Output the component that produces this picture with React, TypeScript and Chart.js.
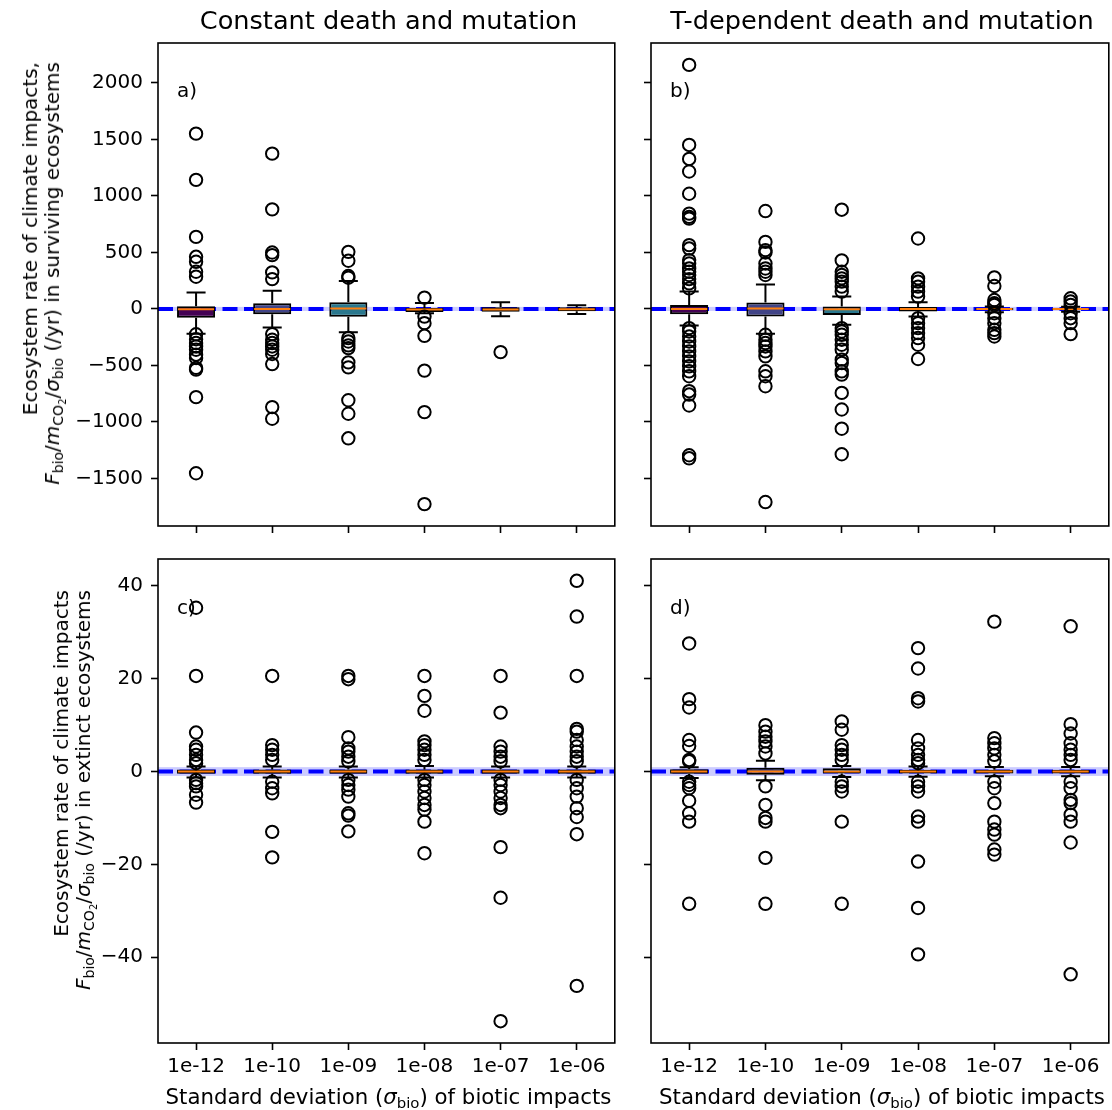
import React, { useEffect, useRef } from 'react';
import { Chart, registerables } from 'chart.js';

Chart.register(...registerables);
Chart.defaults.font.family = "'DejaVu Sans', sans-serif";
Chart.defaults.font.size = 20;
Chart.defaults.color = '#000';

// ---- shared categories and styles ----
const CATEGORIES = ['1e-12', '1e-10', '1e-09', '1e-08', '1e-07', '1e-06'];
const BOX_COLORS = ['#440154', '#414487', '#2a788e', '#22a884', '#7ad151', '#fde725'];
const MEDIAN_COLOR = '#ff7f0e';

const SURVIVING_TICKS = [-1500, -1000, -500, 0, 500, 1000, 1500, 2000];
const EXTINCT_TICKS = [-40, -20, 0, 20, 40];

// ---- a) constant death and mutation, surviving ecosystems ----
const A_Q1 = [-79, -47, -70, -28, -25, -21];
const A_Q3 = [23, 50, 59, 9, 14, 14];
const A_MED = [-3, 0, 3, -6, -6, -4];
const A_WLO = [-220, -164, -206, -38, -65, -44];
const A_WHI = [146, 161, 247, 53, 58, 32];
const A_FLIERS = [
  [1551, 1142, 637, 461, 417, 329, 285, -224, -268, -302, -332, -361, -405, -434, -522, -537, -781, -1454],
  [1374, 881, 499, 476, 323, 264, -223, -273, -302, -332, -361, -399, -488, -869, -972],
  [505, 426, 291, 276, -258, -288, -323, -347, -473, -517, -808, -928, -1145],
  [100, -68, -126, -238, -546, -913, -1727],
  [-382],
  [],
];

// ---- b) T-dependent death and mutation, surviving ecosystems ----
const B_Q1 = [-47, -68, -53, -23, -12, -9];
const B_Q3 = [35, 56, 21, 18, 9, 6];
const B_MED = [0, 3, -3, 0, 0, 0];
const B_WLO = [-147, -220, -141, -68, -30, -25];
const B_WHI = [153, 217, 109, 59, 22, 20];
const B_FLIERS = [
  [2159, 1451, 1327, 1216, 1019, 843, 814, 799, 564, 534, 432, 402, 358, 329, 300, 264, 226, 182,
    -170, -200, -244, -288, -332, -376, -420, -464, -508, -552, -596, -728, -758, -855, -1295, -1322],
  [866, 593, 520, 499, 402, 358, 329, 300, -229, -273, -302, -332, -376, -420, -552, -596, -684, -1709],
  [878, 429, 329, 300, 270, 241, 197, 153, -170, -200, -229, -273, -317, -361, -449, -479, -552, -581,
    -743, -890, -1060, -1286],
  [623, 270, 241, 197, 153, 109, -82, -126, -170, -214, -258, -317, -443],
  [279, 203, 79, 50, 35, -38, -82, -126, -185, -214, -244],
  [94, 65, 35, -38, -82, -126, -223],
];

// ---- c) constant death and mutation, extinct ecosystems ----
const C_Q1 = [-0.5, -0.5, -0.5, -0.5, -0.5, -0.5];
const C_Q3 = [0.45, 0.45, 0.45, 0.45, 0.45, 0.45];
const C_MED = [0, 0, 0, 0, 0, 0];
const C_WLO = [-1.3, -1.3, -1.3, -1.3, -1.3, -1.3];
const C_WHI = [1.1, 1.1, 1.1, 1.2, 1.1, 1.1];
const C_FLIERS = [
  [35.3, 20.6, 8.4, 5.4, 4.7, 3.6, 2.5, 1.8, -1.8, -2.5, -3.2, -5.0, -6.7],
  [20.6, 5.7, 4.7, 3.6, 2.5, -2.2, -3.6, -4.7, -13.0, -18.5],
  [20.6, 19.9, 7.4, 5.0, 4.3, 3.2, 2.2, -1.8, -2.9, -3.9, -5.4, -9.0, -9.5, -12.9],
  [20.6, 16.3, 13.1, 6.5, 5.7, 4.7, 3.6, 2.5, -1.8, -2.9, -4.3, -5.7, -7.2, -8.2, -10.8, -17.6],
  [20.6, 12.7, 5.4, 4.3, 3.2, 2.2, -1.8, -2.9, -4.3, -5.7, -7.2, -7.9, -16.3, -27.2, -53.8],
  [41.1, 33.4, 20.6, 9.2, 8.6, 6.8, 5.4, 4.3, 3.2, 2.2, -1.8, -3.6, -5.4, -7.9, -9.8, -13.5, -46.2],
];

// ---- d) T-dependent death and mutation, extinct ecosystems ----
const D_Q1 = [-0.5, -0.7, -0.4, -0.4, -0.4, -0.4];
const D_Q3 = [0.5, 0.8, 0.7, 0.4, 0.4, 0.4];
const D_MED = [0, 0, 0, 0, 0, 0];
const D_WLO = [-1.4, -1.9, -1.2, -1.1, -1.0, -1.0];
const D_WHI = [0.9, 2.3, 1.2, 1.1, 1.0, 1.0];
const D_FLIERS = [
  [27.6, 15.6, 13.8, 6.8, 5.5, 2.5, 2.2, -2.2, -2.9, -3.6, -6.3, -9.0, -10.8, -28.5],
  [10.0, 8.6, 7.5, 6.5, 5.4, 3.9, -3.2, -7.2, -10.0, -10.8, -18.6, -28.5],
  [10.8, 9.0, 5.7, 4.7, 3.6, 2.5, -2.2, -3.2, -4.3, -10.8, -28.5],
  [26.6, 22.2, 15.8, 15.1, 6.8, 5.0, 3.6, 2.5, 1.8, -2.2, -3.2, -4.3, -9.7, -10.8, -19.4, -29.4, -39.4],
  [32.3, 7.2, 6.1, 5.0, 3.6, 2.2, -2.2, -3.6, -6.8, -10.8, -12.5, -13.6, -16.8, -17.9],
  [31.3, 10.2, 8.2, 6.1, 4.7, 3.6, 2.5, -2.2, -3.6, -6.1, -6.8, -9.3, -10.8, -15.3, -43.7],
];

// zero reference line and its shaded band (half widths, data units)
const SURVIVING_BAND = 18;
const EXTINCT_BAND = 0.95;

// layout of the four axes (page pixels)
const AXIS_W = 100;
const AXIS_H = 60;
const PAD_TOP = 20;
const PAD_RIGHT = 4;

type Rect = { left: number; top: number; right: number; bottom: number };

type PanelProps = {
  rect: Rect;
  q1: number[];
  q3: number[];
  med: number[];
  wlo: number[];
  whi: number[];
  fliers: number[][];
  yMin: number;
  yMax: number;
  yTicks: number[];
  band: number;
  showX: boolean;
  showY: boolean;
};

function BoxPanel(p: PanelProps) {
  const ref = useRef<HTMLCanvasElement>(null);
  const width = p.rect.right - p.rect.left + AXIS_W + PAD_RIGHT;
  const height = p.rect.bottom - p.rect.top + PAD_TOP + AXIS_H;

  useEffect(() => {
    const canvas = ref.current;
    if (!canvas) return;

    const flierPoints = p.fliers.flatMap((vals, i) => vals.map((v) => ({ x: CATEGORIES[i], y: v })));

    const boxParts = {
      id: 'boxParts',
      beforeDatasetsDraw(chart: any) {
        const { ctx, chartArea: a, scales } = chart;
        const y = scales.y;
        ctx.save();
        ctx.beginPath();
        ctx.rect(a.left, a.top, a.right - a.left, a.bottom - a.top);
        ctx.clip();
        const yTop = y.getPixelForValue(p.band);
        const yBot = y.getPixelForValue(-p.band);
        ctx.fillStyle = 'rgba(0, 0, 255, 0.2)';
        ctx.fillRect(a.left, yTop, a.right - a.left, yBot - yTop);
        const y0 = y.getPixelForValue(0);
        ctx.strokeStyle = '#0000ff';
        ctx.lineWidth = 4;
        ctx.setLineDash([15, 6.5]);
        ctx.beginPath();
        ctx.moveTo(a.left, y0);
        ctx.lineTo(a.right, y0);
        ctx.stroke();
        ctx.restore();
      },
      afterDatasetDraw(chart: any, args: any) {
        if (args.index !== 1) return;
        const { ctx, scales } = chart;
        const y = scales.y;
        const meta = chart.getDatasetMeta(1);
        ctx.save();
        meta.data.forEach((bar: any, i: number) => {
          const cx = bar.x;
          const half = bar.width / 2;
          const cap = bar.width / 4;
          const yq1 = y.getPixelForValue(p.q1[i]);
          const yq3 = y.getPixelForValue(p.q3[i]);
          const ylo = y.getPixelForValue(p.wlo[i]);
          const yhi = y.getPixelForValue(p.whi[i]);
          ctx.strokeStyle = '#000';
          ctx.lineWidth = 2;
          ctx.beginPath();
          ctx.moveTo(cx, Math.min(yq3, yq1));
          ctx.lineTo(cx, yhi);
          ctx.moveTo(cx, Math.max(yq3, yq1));
          ctx.lineTo(cx, ylo);
          ctx.moveTo(cx - cap, yhi);
          ctx.lineTo(cx + cap, yhi);
          ctx.moveTo(cx - cap, ylo);
          ctx.lineTo(cx + cap, ylo);
          ctx.stroke();
          const ym = y.getPixelForValue(p.med[i]);
          ctx.strokeStyle = MEDIAN_COLOR;
          ctx.lineWidth = 2;
          ctx.beginPath();
          ctx.moveTo(cx - half + 1, ym);
          ctx.lineTo(cx + half - 1, ym);
          ctx.stroke();
        });
        ctx.restore();
      },
      afterDraw(chart: any) {
        const { ctx, chartArea: a } = chart;
        ctx.save();
        ctx.strokeStyle = '#000';
        ctx.lineWidth = 1.6;
        ctx.strokeRect(a.left, a.top, a.right - a.left, a.bottom - a.top);
        ctx.restore();
      },
    };

    const chart = new Chart(canvas, {
      type: 'bar',
      data: {
        labels: CATEGORIES,
        datasets: [
          {
            type: 'line',
            data: flierPoints as any,
            showLine: false,
            pointRadius: 6.2,
            pointHoverRadius: 6.2,
            pointBorderWidth: 2,
            pointBorderColor: '#000',
            pointBackgroundColor: 'rgba(0,0,0,0)',
            borderColor: '#000',
            backgroundColor: 'rgba(0,0,0,0)',
          } as any,
          {
            type: 'bar',
            data: p.q1.map((q, i) => [q, p.q3[i]]) as any,
            backgroundColor: BOX_COLORS,
            borderColor: '#000',
            borderWidth: 2,
            borderSkipped: false,
            barPercentage: 0.5,
            categoryPercentage: 1,
          } as any,
        ],
      },
      options: {
        responsive: false,
        animation: false,
        devicePixelRatio: 1,
        layout: { padding: { top: PAD_TOP, right: PAD_RIGHT, left: 0, bottom: 0 } },
        plugins: { legend: { display: false }, tooltip: { enabled: false } },
        events: [],
        scales: {
          x: {
            type: 'category',
            offset: true,
            grid: {
              offset: false,
              drawOnChartArea: false,
              drawTicks: true,
              tickLength: 7,
              tickWidth: 1.6,
              tickColor: '#000',
            },
            border: { display: false },
            ticks: { display: p.showX, padding: 5, font: { size: 20 }, color: '#000', maxRotation: 0, autoSkip: false },
            afterFit: (s: any) => {
              s.height = AXIS_H;
            },
          },
          y: {
            type: 'linear',
            min: p.yMin,
            max: p.yMax,
            grid: {
              drawOnChartArea: false,
              drawTicks: true,
              tickLength: 7,
              tickWidth: 1.6,
              tickColor: '#000',
            },
            border: { display: false },
            ticks: {
              display: p.showY,
              padding: 8,
              font: { size: 20 },
              color: '#000',
              callback: (v: any) => String(v).replace('-', '\u2212'),
            },
            afterBuildTicks: (s: any) => {
              s.ticks = p.yTicks.map((v) => ({ value: v }));
            },
            afterFit: (s: any) => {
              s.width = AXIS_W;
            },
          },
        },
      } as any,
      plugins: [boxParts],
    });
    return () => chart.destroy();
  }, []);

  return (
    <canvas
      ref={ref}
      width={width}
      height={height}
      style={{
        position: 'absolute',
        left: p.rect.left - AXIS_W,
        top: p.rect.top - PAD_TOP,
        width,
        height,
      }}
    />
  );
}

const FONT = "'DejaVu Sans', sans-serif";
const subStyle: React.CSSProperties = { fontSize: '70%', verticalAlign: '-0.28em', lineHeight: 0 };

function Sub({ children }: { children: React.ReactNode }) {
  return <span style={subStyle}>{children}</span>;
}

function RateSymbol() {
  return (
    <>
      <i>F</i>
      <Sub>bio</Sub>/<i>m</i>
      <Sub>
        CO<Sub>2</Sub>
      </Sub>
      /<i>σ</i>
      <Sub>bio</Sub>
    </>
  );
}

// Two-line vertical axis title; (x, yTop) is where the ends of both lines meet.
function YTitle({ x, yTop, first, second }: { x: number; yTop: number; first: string; second: string }) {
  return (
    <div
      style={{
        position: 'absolute',
        left: x,
        top: yTop,
        transformOrigin: '0 0',
        transform: 'rotate(-90deg) translate(-100%, -50%)',
        whiteSpace: 'nowrap',
        textAlign: 'right',
        fontSize: 20,
        lineHeight: '22px',
        fontFamily: FONT,
      }}
    >
      <div>{first}</div>
      <div>
        <RateSymbol /> (/yr) in {second}
      </div>
    </div>
  );
}

function XTitle({ cx, top }: { cx: number; top: number }) {
  return (
    <div
      style={{
        position: 'absolute',
        left: cx - 300,
        width: 600,
        top,
        textAlign: 'center',
        fontSize: 21.3,
        lineHeight: '26px',
        whiteSpace: 'nowrap',
        fontFamily: FONT,
      }}
    >
      Standard deviation (<i>σ</i>
      <Sub>bio</Sub>) of biotic impacts
    </div>
  );
}

function Text({ x, y, size, children, center }: { x: number; y: number; size: number; children: React.ReactNode; center?: boolean }) {
  return (
    <div
      style={{
        position: 'absolute',
        left: center ? x - 400 : x,
        width: center ? 800 : undefined,
        top: y - size * 0.6,
        fontSize: size,
        lineHeight: `${size * 1.2}px`,
        textAlign: center ? 'center' : 'left',
        whiteSpace: 'nowrap',
        fontFamily: FONT,
      }}
    >
      {children}
    </div>
  );
}

const RECT_A: Rect = { left: 158, top: 43, right: 619, bottom: 526 };
const RECT_B: Rect = { left: 651, top: 43, right: 1113, bottom: 526 };
const RECT_C: Rect = { left: 158, top: 559, right: 619, bottom: 1043 };
const RECT_D: Rect = { left: 651, top: 559, right: 1113, bottom: 1043 };

const SURV_MIN = -1921;
const SURV_MAX = 2353;
const EXT_MIN = -58.5;
const EXT_MAX = 45.8;

export default function App() {
  return (
    <div
      style={{
        position: 'absolute',
        left: 0,
        top: 0,
        width: 1112,
        height: 1110,
        overflow: 'hidden',
        background: '#fff',
        fontFamily: FONT,
        color: '#000',
      }}
    >
      <BoxPanel rect={RECT_A} q1={A_Q1} q3={A_Q3} med={A_MED} wlo={A_WLO} whi={A_WHI} fliers={A_FLIERS}
        yMin={SURV_MIN} yMax={SURV_MAX} yTicks={SURVIVING_TICKS} band={SURVIVING_BAND} showX={false} showY={true} />
      <BoxPanel rect={RECT_B} q1={B_Q1} q3={B_Q3} med={B_MED} wlo={B_WLO} whi={B_WHI} fliers={B_FLIERS}
        yMin={SURV_MIN} yMax={SURV_MAX} yTicks={SURVIVING_TICKS} band={SURVIVING_BAND} showX={false} showY={false} />
      <BoxPanel rect={RECT_C} q1={C_Q1} q3={C_Q3} med={C_MED} wlo={C_WLO} whi={C_WHI} fliers={C_FLIERS}
        yMin={EXT_MIN} yMax={EXT_MAX} yTicks={EXTINCT_TICKS} band={EXTINCT_BAND} showX={true} showY={true} />
      <BoxPanel rect={RECT_D} q1={D_Q1} q3={D_Q3} med={D_MED} wlo={D_WLO} whi={D_WHI} fliers={D_FLIERS}
        yMin={EXT_MIN} yMax={EXT_MAX} yTicks={EXTINCT_TICKS} band={EXTINCT_BAND} showX={true} showY={false} />

      <Text x={388.5} y={20} size={25.6} center>Constant death and mutation</Text>
      <Text x={882} y={20} size={25.6} center>T-dependent death and mutation</Text>

      <Text x={177} y={90} size={20}>a)</Text>
      <Text x={670} y={90} size={20}>b)</Text>
      <Text x={177} y={607} size={20}>c)</Text>
      <Text x={670} y={607} size={20}>d)</Text>

      <YTitle x={41} yTop={62} first="Ecosystem rate of climate impacts," second="surviving ecosystems" />
      <YTitle x={71.5} yTop={590} first="Ecosystem rate of climate impacts" second="extinct ecosystems" />

      <XTitle cx={388.5} top={1084} />
      <XTitle cx={882} top={1084} />
    </div>
  );
}
